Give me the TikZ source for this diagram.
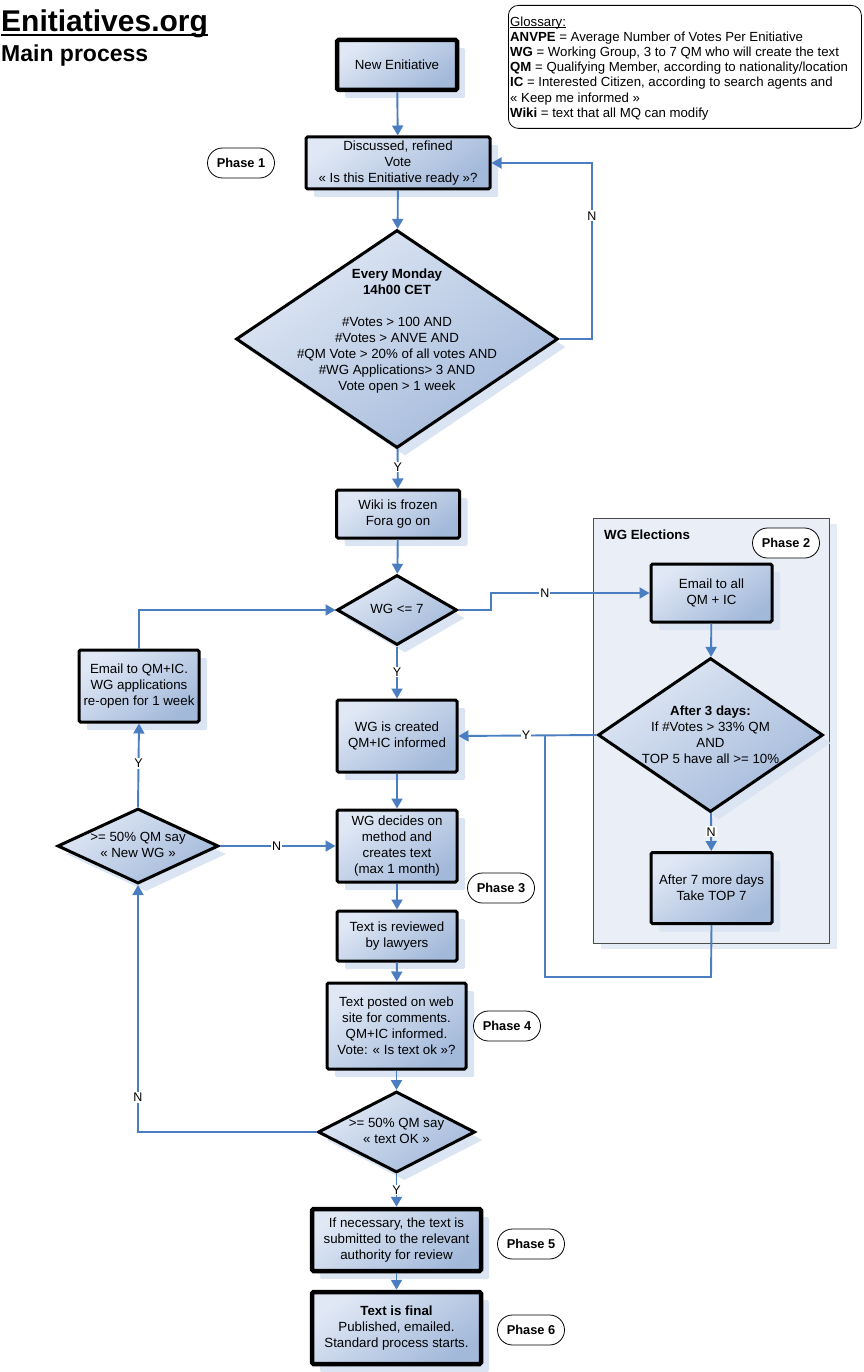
\documentclass[tikz,border=0pt]{standalone}
\usepackage{fontspec}
\setmainfont{Liberation Sans}
\usetikzlibrary{shapes.geometric,shapes.misc,arrows.meta,shadows}
\definecolor{boxlight}{RGB}{224,232,245}
\definecolor{boxdark}{RGB}{163,185,218}
\definecolor{shadowblue}{RGB}{218,228,242}
\definecolor{connblue}{RGB}{74,126,193}
\definecolor{panelfill}{RGB}{233,238,247}
\newcommand{\nfont}{\fontsize{13.3}{16}\selectfont}
\tikzset{
  every node/.style={font=\nfont},
  proc/.style={draw=black, line width=3pt, rounded corners=1.5pt, top color=boxlight, bottom color=boxdark, shading angle=35,
     drop shadow={shadow xshift=8pt, shadow yshift=-8pt, fill=shadowblue, opacity=1},
     align=center, inner sep=0pt},
  dia/.style={diamond, draw=black, line width=3pt, top color=boxlight, bottom color=boxdark, shading angle=35,
     drop shadow={shadow xshift=8pt, shadow yshift=-8pt, fill=shadowblue, opacity=1}, inner sep=0pt},
  phase/.style={rounded rectangle, draw=black, line width=0.8pt, fill=white, font=\fontsize{12.8}{15}\selectfont\bfseries, minimum width=67pt, minimum height=30pt, inner sep=0pt},
  conn/.style={draw=connblue, line width=1.9pt, -{Triangle[length=10pt,width=11pt]}},
  connline/.style={draw=connblue, line width=1.9pt},
  lab/.style={fill=white, inner sep=1pt, font=\fontsize{12.5}{14}\selectfont, text=black}
}
\begin{document}
\begin{tikzpicture}[x=1pt,y=-1pt]
\useasboundingbox (0,0) rectangle (863,1372);
% title
\node[anchor=base west, inner sep=0pt, font=\fontsize{30}{34}\selectfont\bfseries] (title) at (1,32) {Enitiatives.org};
\draw[line width=2pt] (title.base west) ++(0,3.5) -- ++(207,0);
\node[anchor=base west, inner sep=0pt, font=\fontsize{23}{26}\selectfont\bfseries] (subtitle) at (1,62) {Main process};
% glossary
\node[draw=black, line width=0.8pt, rounded corners=10pt, anchor=north west, minimum width=353pt, minimum height=123pt, inner sep=0pt] (gloss) at (508,5) {};
\node[anchor=north west, align=left, inner sep=0pt, font=\fontsize{13.2}{15.2}\selectfont] (glosstext) at (510,26) {\underline{\smash{Glossary:}}\\
\textbf{ANVPE} = Average Number of Votes Per Enitiative\\
\textbf{WG} = Working Group, 3 to 7 QM who will create the text\\
\textbf{QM} = Qualifying Member, according to nationality/location\\
\textbf{IC} = Interested Citizen, according to search agents and\\
« Keep me informed »\\
\textbf{Wiki} = text that all MQ can modify};
% WG elections panel
\node[draw=black!70, line width=0.8pt, fill=panelfill, anchor=north west, minimum width=236pt, minimum height=425pt, inner sep=0pt,
  drop shadow={shadow xshift=8pt, shadow yshift=-6pt, fill=shadowblue!70, opacity=1}] (panel) at (593,518) {};
\node[anchor=west, inner sep=0pt, font=\nfont\bfseries] (paneltitle) at (604,535) {WG Elections};
\node[phase] (ph2) at (786,543) {Phase 2};
% main column
\node[proc, line width=4.5pt, minimum width=120pt, minimum height=50pt] (new) at (397,65) {New Enitiative};
\node[proc, minimum width=184pt, minimum height=52pt] (disc) at (398,163) {Discussed, refined\\Vote\\« Is this Enitiative ready »?};
\node[phase] (ph1) at (241,163) {Phase 1};
\node[dia, minimum width=322pt, minimum height=218pt] (d1) at (397,339) {};
\node[align=center, inner sep=0pt] (d1text) at (397,331) {\textbf{Every Monday}\\\textbf{14h00 CET}\\[16pt]\#Votes > 100 AND\\\#Votes > ANVE AND\\\#QM Vote > 20\% of all votes AND\\\#WG Applications> 3 AND\\Vote open > 1 week};
\node[proc, minimum width=123pt, minimum height=48pt] (wiki) at (398,514) {Wiki is frozen\\Fora go on};
\node[dia, minimum width=120pt, minimum height=70pt] (wg7) at (397,610) {};
\node[inner sep=0pt] (wg7text) at (397,609) {WG <= 7};
\node[proc, minimum width=120pt, minimum height=72pt] (emailL) at (139,686) {Email to QM+IC.\\WG applications\\re-open for 1 week};
\node[proc, minimum width=120pt, minimum height=72pt] (created) at (397,736) {WG is created\\QM+IC informed};
\node[proc, minimum width=120pt, minimum height=72pt] (decides) at (397,846) {WG decides on\\method and\\creates text\\(max 1 month)};
\node[dia, minimum width=161pt, minimum height=75pt] (dnew) at (138,846) {};
\node[align=center, inner sep=0pt] (dnewtext) at (138,845) {>= 50\% QM say\\« New WG »};
\node[phase] (ph3) at (501,888) {Phase 3};
\node[proc, minimum width=120pt, minimum height=50pt] (review) at (397,936) {Text is reviewed\\by lawyers};
\node[proc, minimum width=139pt, minimum height=86pt] (posted) at (396.5,1026) {Text posted on web\\site for comments.\\QM+IC informed.\\Vote: « Is text ok »?};
\node[phase] (ph4) at (507,1026) {Phase 4};
\node[dia, minimum width=157pt, minimum height=81pt] (dok) at (396.5,1132) {};
\node[align=center, inner sep=0pt] (doktext) at (396.5,1131) {>= 50\% QM say\\« text OK »};
\node[proc, line width=4.5pt, minimum width=169pt, minimum height=62pt] (necessary) at (396.5,1240) {If necessary, the text is\\submitted to the relevant\\authority for review};
\node[phase] (ph5) at (531,1244) {Phase 5};
\node[proc, line width=4.5pt, minimum width=169pt, minimum height=72pt] (final) at (396.5,1328) {\textbf{Text is final}\\Published, emailed.\\Standard process starts.};
\node[phase] (ph6) at (531,1330) {Phase 6};
% WG elections nodes
\node[proc, minimum width=121pt, minimum height=58pt] (emailAll) at (711.5,593) {Email to all\\QM + IC};
\node[dia, minimum width=225pt, minimum height=154pt] (d3) at (710.5,735) {};
\node[align=center, inner sep=0pt] (d3text) at (710.5,735) {\textbf{After 3 days:}\\If \#Votes > 33\% QM\\AND\\TOP 5 have all >= 10\%};
\node[proc, minimum width=121pt, minimum height=71pt] (after7) at (711.5,888) {After 7 more days\\Take TOP 7};
% connectors
\draw[conn] (new) -- (disc);
\draw[conn] (disc) -- (d1);
\draw[conn] (d1.east) -- (592,339) -- node[lab, pos=0.7]{N} (592,163) -- (disc.east);
\draw[conn] (d1) -- node[lab, pos=0.45]{Y} (wiki);
\draw[conn] (wiki) -- (wg7);
\draw[conn] (wg7.east) -- (491,610) |- node[lab, pos=0.67]{N} (emailAll.west);
\draw[conn] (wg7) -- node[lab, pos=0.49]{Y} (created);
\draw[conn] (emailAll) -- (d3);
\draw[conn] (d3.west) -- node[lab, pos=0.51]{Y} (created.east);
\draw[conn] (d3) -- node[lab, pos=0.49]{N} (after7);
\draw[connline] (after7.south) -- (711,977) -- (545,977) -- (545,736);
\draw[conn] (created) -- (decides);
\draw[conn] (decides) -- (review);
\draw[conn] (review) -- (posted);
\draw[conn] (posted) -- (dok);
\draw[conn] (dok.west) -| node[lab, pos=0.57]{N} (dnew.south);
\draw[conn] (dnew.north) -- node[lab, pos=0.52]{Y} (emailL.south);
\draw[conn] (emailL.north) |- (wg7.west);
\draw[conn] (dnew.east) -- node[lab, pos=0.49]{N} (decides.west);
\draw[conn] (dok) -- node[lab, pos=0.49]{Y} (necessary);
\draw[conn] (necessary) -- (final);
\end{tikzpicture}
\end{document}
